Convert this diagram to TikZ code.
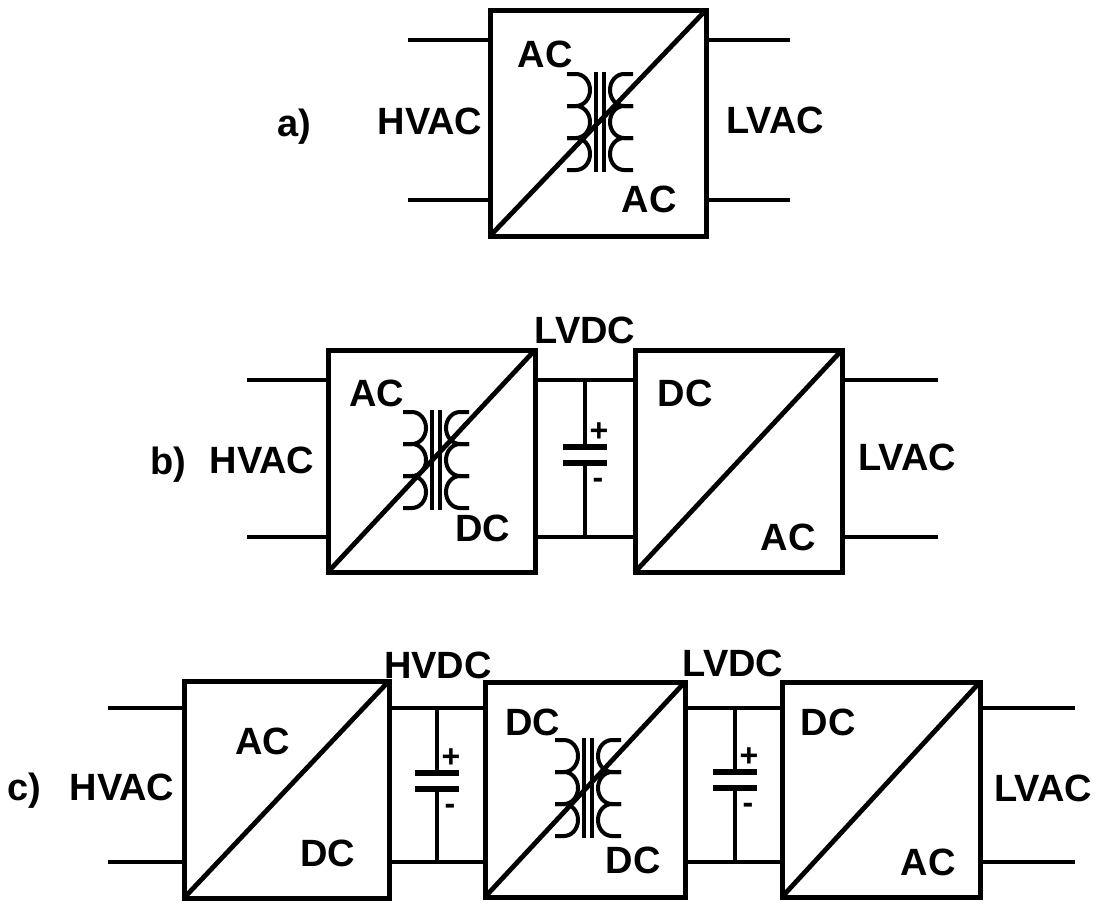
\documentclass[tikz,border=0pt]{standalone}
\usepackage{fontspec}
\setmainfont{Liberation Sans}
\newcommand\mycap[4]{%
  \draw[lead] (#1,#2) -- (#1,#4);
  \draw[plate] ({#1-22},#4) -- ({#1+22},#4);
  \draw[plate] ({#1-22},{#4+16}) -- ({#1+22},{#4+16});
  \draw[lead] (#1,{#4+16}) -- (#1,#3);
  \node[sign] at ({#1+14},{#4-6}) {+};
  \node[sign] at ({#1+13},{#4+41}) {-};
}
\newcommand\myxfmr[2]{%
  \draw[coil] ({#1-4},{#2-50}) -- ({#1-4},{#2+50});
  \draw[coil] ({#1+4},{#2-50}) -- ({#1+4},{#2+50});
  \foreach \k in {0,1,2}{
    \draw[coil] ({#1-33},{#2-48+32*\k}) -- ({#1-24},{#2-48+32*\k})
      arc[start angle=-90,end angle=90,x radius=14,y radius=16] -- ({#1-33},{#2-16+32*\k});
    \draw[coil] ({#1+33},{#2-48+32*\k}) -- ({#1+24},{#2-48+32*\k})
      arc[start angle=-90,end angle=-270,x radius=14,y radius=16] -- ({#1+33},{#2-16+32*\k});
  }
}
\begin{document}
\begin{tikzpicture}[x=1pt,y=-1pt,
  conv/.style={draw, rectangle, line width=5pt, inner sep=0pt, outer sep=0pt},
  wire/.style={line width=4.6pt},
  diag/.style={line width=4.8pt},
  coil/.style={line width=4pt},
  plate/.style={line width=6.5pt},
  lead/.style={line width=4.2pt},
  lab/.style={font=\fontsize{38}{42}\selectfont\bfseries, inner sep=0pt, text height=27pt, text depth=0pt},
  sign/.style={font=\fontsize{32}{36}\selectfont\bfseries, inner sep=0pt, anchor=base}]
\useasboundingbox[fill=white] (0,0) rectangle (1100,910);

% ---------- a) ----------
\node[conv, minimum width=216pt, minimum height=226pt] (A) at (598,123) {};
\draw[diag] (A.south west) -- (A.north east);
\myxfmr{600}{122}
\coordinate (aL1) at (408,40);
\coordinate (aL2) at (408,200);
\coordinate (aR1) at (790,40);
\coordinate (aR2) at (790,200);
\draw[wire] (aL1) -- (aL1 -| A.west);
\draw[wire] (aL2) -- (aL2 -| A.west);
\draw[wire] (A.east |- aR1) -- (aR1);
\draw[wire] (A.east |- aR2) -- (aR2);
\node[lab] (la) at (294,123) {a)};
\node[lab] (laH) at (430,121) {HVAC};
\node[lab] (laL) at (775,120) {LVAC};
\node[lab] (laA1) at (545,54) {AC};
\node[lab] (laA2) at (649,199) {AC};

% ---------- b) ----------
\node[conv, minimum width=207pt, minimum height=222pt] (B1) at (431.5,461) {};
\node[conv, minimum width=207pt, minimum height=222pt] (B2) at (738.5,461) {};
\draw[diag] (B1.south west) -- (B1.north east);
\draw[diag] (B2.south west) -- (B2.north east);
\myxfmr{436}{460}
\coordinate (bL1) at (247,380);
\coordinate (bL2) at (247,537);
\coordinate (bR1) at (938,380);
\coordinate (bR2) at (938,537);
\coordinate (bT) at (585,380);
\coordinate (bB) at (585,537);
\draw[wire] (bL1) -- (bL1 -| B1.west);
\draw[wire] (bL2) -- (bL2 -| B1.west);
\draw[wire] (B2.east |- bR1) -- (bR1);
\draw[wire] (B2.east |- bR2) -- (bR2);
\draw[wire] (B1.east |- bT) -- (B2.west |- bT);
\draw[wire] (B1.east |- bB) -- (B2.west |- bB);
\mycap{585}{380}{537}{447}
\node[lab] (lb) at (168,461) {b)};
\node[lab] (lbH) at (262,460) {HVAC};
\node[lab] (lbL) at (907,457) {LVAC};
\node[lab] (lbV) at (585,330) {LVDC};
\node[lab] (lb1) at (377,393) {AC};
\node[lab] (lb2) at (483,528) {DC};
\node[lab] (lb3) at (685,393) {DC};
\node[lab] (lb4) at (788,537) {AC};

% ---------- c) ----------
\node[conv, minimum width=205pt, minimum height=217pt] (C1) at (286.5,789.5) {};
\node[conv, minimum width=200pt, minimum height=215pt] (C2) at (585,789.5) {};
\node[conv, minimum width=198pt, minimum height=215pt] (C3) at (881,789.5) {};
\draw[diag] (C1.south west) -- (C1.north east);
\draw[diag] (C2.south west) -- (C2.north east);
\draw[diag] (C3.south west) -- (C3.north east);
\myxfmr{588}{788}
\coordinate (cL1) at (108,708);
\coordinate (cL2) at (108,862);
\coordinate (cR1) at (1075,708);
\coordinate (cR2) at (1075,862);
\coordinate (cT1) at (437,708);
\coordinate (cB1) at (437,862);
\coordinate (cT2) at (735,708);
\coordinate (cB2) at (735,862);
\draw[wire] (cL1) -- (cL1 -| C1.west);
\draw[wire] (cL2) -- (cL2 -| C1.west);
\draw[wire] (C3.east |- cR1) -- (cR1);
\draw[wire] (C3.east |- cR2) -- (cR2);
\draw[wire] (C1.east |- cT1) -- (C2.west |- cT1);
\draw[wire] (C1.east |- cB1) -- (C2.west |- cB1);
\draw[wire] (C2.east |- cT2) -- (C3.west |- cT2);
\draw[wire] (C2.east |- cB2) -- (C3.west |- cB2);
\mycap{437}{708}{862}{773}
\mycap{735}{708}{862}{772}
\node[lab] (lc) at (24,787) {c)};
\node[lab] (lcH) at (122,787) {HVAC};
\node[lab] (lcL) at (1043,788) {LVAC};
\node[lab] (lcV1) at (438,665) {HVDC};
\node[lab] (lcV2) at (733,663) {LVDC};
\node[lab] (lc1) at (263,741) {AC};
\node[lab] (lc2) at (328,853) {DC};
\node[lab] (lc3) at (533,722) {DC};
\node[lab] (lc4) at (633,860) {DC};
\node[lab] (lc5) at (828,722) {DC};
\node[lab] (lc6) at (928,862) {AC};
\end{tikzpicture}
\end{document}
